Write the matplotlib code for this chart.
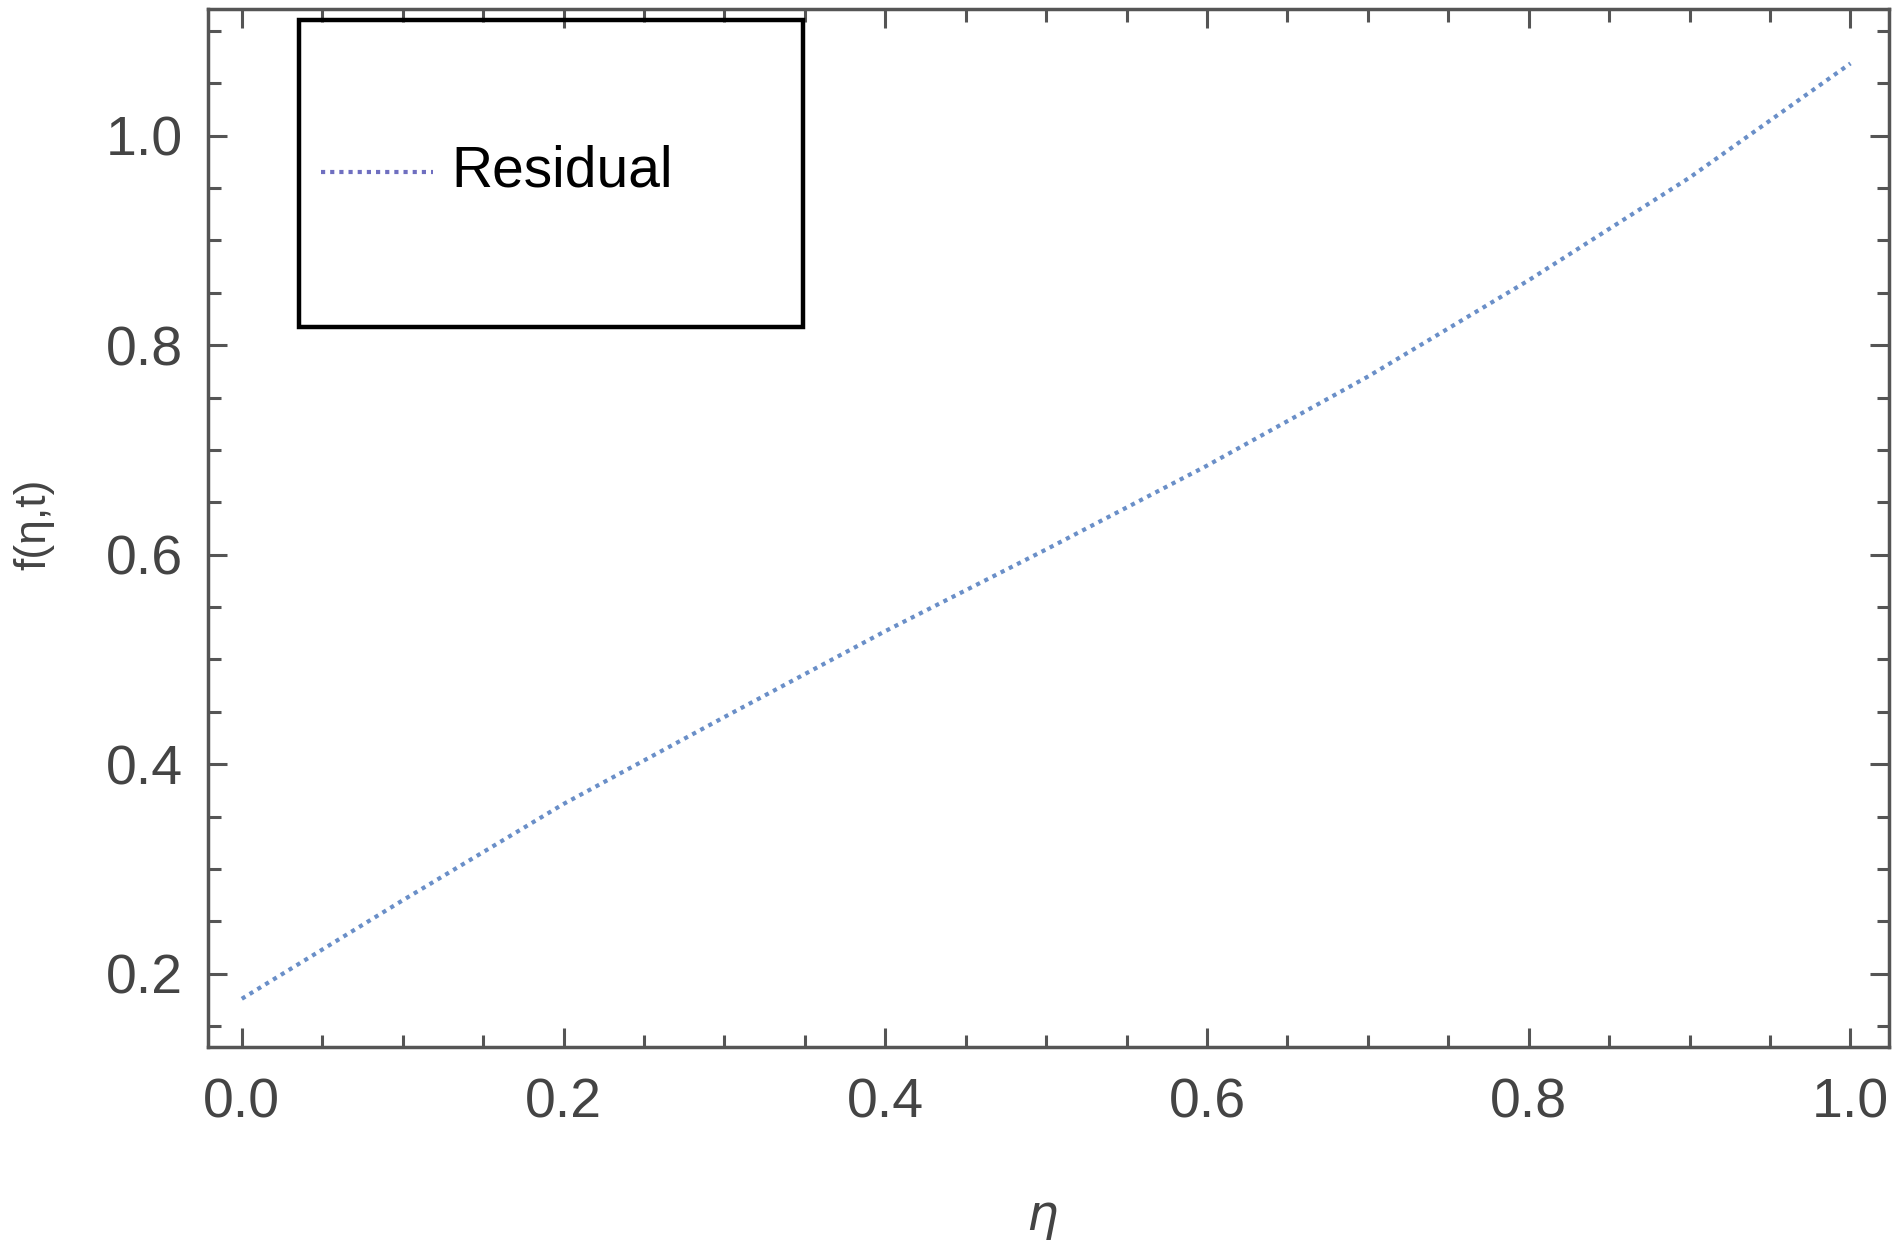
import numpy as np
import matplotlib
matplotlib.use('Agg')
import matplotlib.pyplot as plt
from matplotlib.patches import Rectangle
from matplotlib.ticker import MultipleLocator

# values
eta = [0.0, 0.1, 0.2, 0.3, 0.4, 0.5, 0.6, 0.7, 0.8, 0.9, 1.0]
f_vals = [0.176, 0.270, 0.362, 0.445, 0.527, 0.605, 0.685, 0.770, 0.862, 0.960, 1.069]
series_label = 'Residual'
x_ticks = [0.0, 0.2, 0.4, 0.6, 0.8, 1.0]
y_ticks = [0.2, 0.4, 0.6, 0.8, 1.0]

plt.rcParams['font.family'] = ['Liberation Sans', 'DejaVu Sans']

axis_col = '#555555'
text_col = '#444444'

fig = plt.figure(figsize=(18.98, 12.43), dpi=100)
ax = fig.add_axes([0.1096, 0.1577, 0.9953 - 0.1096, 0.9928 - 0.1577])

ax.plot(eta, f_vals, linestyle=(0, (1, 1.2)), color='#6a8fc8', linewidth=3.0)

ax.set_xlim(-0.021, 1.024)
ax.set_ylim(0.13, 1.121)
ax.set_xticks(x_ticks)
ax.set_yticks(y_ticks)
ax.xaxis.set_minor_locator(MultipleLocator(0.05))
ax.yaxis.set_minor_locator(MultipleLocator(0.05))
ax.set_xticklabels([f'{v:.1f}' for v in x_ticks])
ax.set_yticklabels([f'{v:.1f}' for v in y_ticks])

for s in ax.spines.values():
    s.set_color(axis_col)
    s.set_linewidth(2.5)

ax.tick_params(which='both', direction='in', top=True, right=True,
               color=axis_col, width=2.2, labelcolor=text_col, labelsize=40)
ax.tick_params(axis='x', which='major', length=14, pad=22)
ax.tick_params(axis='y', which='major', length=14, pad=18)
ax.tick_params(which='minor', length=9)

fig.text(0.018, 0.578, 'f(η,t)', rotation=90, fontsize=32, color=text_col,
         ha='center', va='center')
fig.text(0.549, 0.022, 'η', fontsize=36, color=text_col, style='italic',
         ha='center', va='center', family='DejaVu Sans')

# legend box
ax.add_patch(Rectangle((0.054, 0.694), 0.300, 0.295, transform=ax.transAxes,
                       fill=False, edgecolor='black', linewidth=3.2,
                       zorder=5, clip_on=False))
ax.plot([0.067, 0.134], [0.843, 0.843], transform=ax.transAxes,
        linestyle=(0, (1, 1.2)), color='#6f6fc0', linewidth=3.0)
ax.text(0.145, 0.843, series_label, transform=ax.transAxes, fontsize=41,
        color='black', ha='left', va='center')

plt.savefig('out.png', dpi=100)
